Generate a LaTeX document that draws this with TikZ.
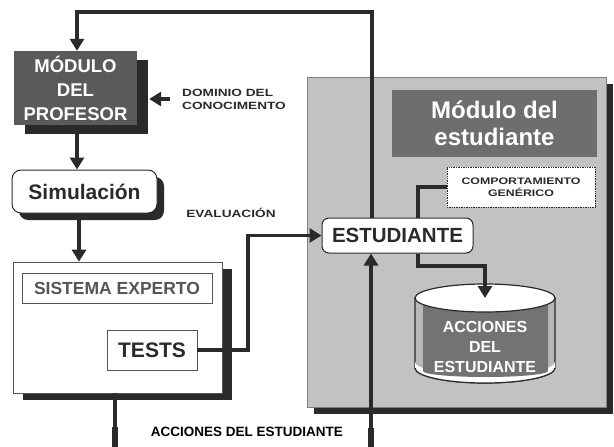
\documentclass[tikz,border=0pt]{standalone}
\usepackage{fontspec}
\setmainfont{Liberation Sans}
\newfontfamily\widefont[FakeStretch=1.3]{Liberation Sans}
\usetikzlibrary{arrows.meta,shadows,calc}
\definecolor{linec}{HTML}{2A2A2A}
\definecolor{shadowc}{HTML}{2A2A2A}
\definecolor{profc}{HTML}{5A5A5A}
\definecolor{studc}{HTML}{C2C2C2}
\definecolor{titlec}{HTML}{6E6E6E}
\definecolor{cylin}{HTML}{737373}
\definecolor{cylside}{HTML}{B8B8B8}
\definecolor{graytxt}{HTML}{555555}
\tikzset{
  conn/.style={draw=linec, line width=3.4pt},
  arr/.style={-{Triangle[width=14pt,length=12pt]}},
  shad/.style 2 args={drop shadow={shadow xshift=#1, shadow yshift=#2, fill=shadowc, opacity=1}},
  box/.style={draw=graytxt, line width=0.7pt, fill=white, inner sep=0pt, font=\bfseries},
  smalltxt/.style={font=\widefont\bfseries\fontsize{10.5}{13}\selectfont, text=linec}
}
\begin{document}
\begin{tikzpicture}[x=1pt,y=-1pt]
\useasboundingbox (0,0) rectangle (614,447);

% student module
\node[shad={7pt}{-7pt}, draw=gray, line width=0.5pt, fill=studc, minimum width=299pt, minimum height=330pt, inner sep=0pt] (smod) at (456.5,242) {};
\node[fill=titlec, minimum width=205pt, minimum height=67pt, inner sep=0pt, align=center, text=white, font=\bfseries\fontsize{24}{27}\selectfont] (title) at (494.5,123.5) {Módulo del\\estudiante};
\node[box, draw=linec, densely dotted, line width=0.9pt, minimum width=148pt, minimum height=40pt, align=center, text=linec, font=\widefont\bfseries\fontsize{9.5}{12}\selectfont] (comp) at (521,187) {COMPORTAMIENTO\\GENÉRICO};

% cylinder
\coordinate (cyltop) at (485,298);
\filldraw[fill=cylside, draw=linec, line width=1.2pt] (415,298) -- (415,368) arc[start angle=180, end angle=0, x radius=70, y radius=15] -- (555,298) -- cycle;
\fill[white] (415,368) arc[start angle=180, end angle=0, x radius=70, y radius=15] -- (555,362) arc[start angle=0, end angle=180, x radius=70, y radius=13] -- cycle;
\fill[cylin] (423,305) -- (423,371) arc[start angle=180, end angle=0, x radius=62.5, y radius=6] -- (548,305) -- cycle;
\draw[linec, line width=1.2pt] (415,368) arc[start angle=180, end angle=0, x radius=70, y radius=15];
\filldraw[fill=white, draw=linec, line width=1.2pt] (cyltop) ellipse[x radius=70, y radius=14];
\node[text=white, align=center, inner sep=0pt, font=\bfseries\fontsize{16}{20}\selectfont] (acc) at (485,347) {ACCIONES\\DEL\\ESTUDIANTE};

% left column
\node[shad={11pt}{-9pt}, fill=profc, minimum width=123pt, minimum height=74pt, inner sep=0pt, align=center, text=white, font=\bfseries\fontsize{18.5}{24}\selectfont] (prof) at (75.5,88) {MÓDULO\\DEL\\PROFESOR};
\coordinate (profedge) at ([xshift=12pt]prof.east);
\node[shad={7pt}{-7pt}, box, draw=linec, line width=1pt, rounded corners=9pt, minimum width=145pt, minimum height=43pt, text=linec, font=\bfseries\fontsize{21}{24}\selectfont] (sim) at (84.5,191.5) {Simulación};
\node[shad={10pt}{-7pt}, box, minimum width=209pt, minimum height=131pt] (sis) at (117.5,327.5) {};
\node[box, minimum width=190pt, minimum height=30pt, text=graytxt, font=\bfseries\fontsize{17.5}{20}\selectfont] (sisexp) at (117,288) {SISTEMA EXPERTO};
\node[box, minimum width=90pt, minimum height=40pt, text=linec, font=\bfseries\fontsize{21}{24}\selectfont] (tests) at (152,350) {TESTS};

\node[box, draw=linec, line width=1pt, rounded corners=7pt, minimum width=151pt, minimum height=35pt, text=linec, font=\bfseries\fontsize{20.5}{24}\selectfont] (estu) at (397.5,235.5) {ESTUDIANTE};

% labels
\node[smalltxt, anchor=west, inner xsep=12pt, inner ysep=0pt, align=left] (dom) at (170,99) {DOMINIO DEL\\CONOCIMENTO};
\node[smalltxt] (eval) at (231,213) {EVALUACIÓN};
\node[font=\bfseries\fontsize{13.5}{16}\selectfont, text=black] (accl) at (247,432) {ACCIONES DEL ESTUDIANTE};

% connectors
\coordinate (topR) at (372,12);
\coordinate (topL) at (77,12);
\draw[conn, arr] (estu.north -| topR) -- (topR) -- (topL) -- (prof.north -| topL);
\draw[conn, arr] (dom.west) -- (dom.west -| profedge);
\draw[conn, arr] (prof.south -| topL) -- (sim.north -| topL);
\coordinate (simx) at (79,0);
\draw[conn, arr] (sim.south -| simx) -- (sis.north -| simx);
\coordinate (tj) at (248,0);
\draw[conn, arr] (tests.east) -- (tests.east -| tj) -- (tj |- estu.west) -- (estu.west);
\coordinate (cx) at (418,0);
\draw[conn] (comp.west) -- (comp.west -| cx) -- (cx |- estu.north);
\coordinate (cy) at (0,266);
\draw[conn, arr] (cx |- estu.south) -- (cx |- cy) -- (cyltop |- cy) -- (cyltop);
\coordinate (bl) at (115,447);
\coordinate (blk) at (115,427);
\draw[conn] (sis.south -| bl) -- (bl);
\draw[line width=6pt, linec] (blk) -- (bl);
\coordinate (br) at (371,447);
\coordinate (brk) at (371,428);
\draw[conn, arr] (br) -- (br |- estu.south);
\draw[line width=6pt, linec] (brk) -- (br);
\end{tikzpicture}
\end{document}
